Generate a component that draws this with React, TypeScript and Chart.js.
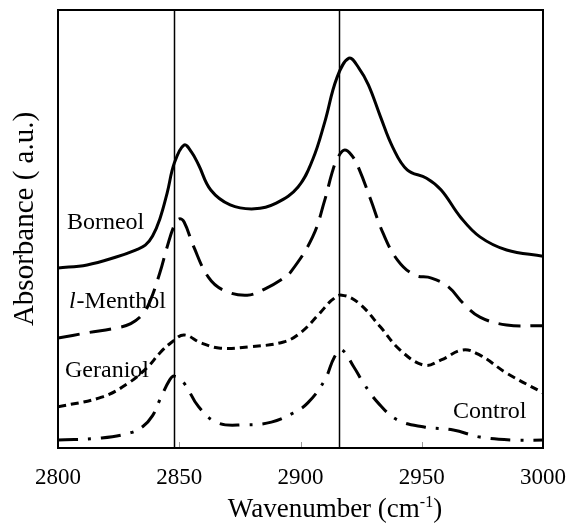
import React, { useEffect, useRef } from "react";
import { Chart, registerables } from "chart.js";

Chart.register(...registerables);

// ---- Data (wavenumber in cm-1, absorbance in arbitrary units, offset traces) ----
const borneolWn = [2800, 2812, 2824, 2832, 2836, 2839, 2842, 2845, 2848, 2852, 2855, 2858, 2863, 2871, 2881, 2890, 2899, 2905, 2910, 2915, 2920, 2924, 2928, 2933, 2938, 2944, 2952, 2958, 2966, 2974, 2985, 3000];
const borneolAbs = [41.1, 41.8, 43.6, 45.2, 46.3, 48.4, 52.3, 58.2, 65.1, 69.2, 67.6, 64.6, 58.9, 55.5, 54.6, 55.9, 59.6, 65.8, 74.4, 84.5, 89.0, 86.8, 82.9, 75.6, 68.7, 63.5, 61.6, 58.9, 52.7, 48.2, 45.2, 43.8];

const mentholWn = [2800, 2812, 2824, 2830, 2835, 2838, 2842, 2845, 2848, 2850, 2852, 2856, 2862, 2868, 2878, 2886, 2892, 2896, 2905, 2910, 2913, 2915, 2918, 2921, 2924, 2929, 2934, 2940, 2947, 2954, 2961, 2967, 2974, 2985, 3000];
const mentholAbs = [25.1, 26.3, 27.4, 28.4, 30.6, 33.6, 40.0, 45.9, 50.9, 52.3, 51.6, 45.9, 39.0, 36.1, 34.9, 36.5, 38.4, 40.2, 48.2, 56.6, 62.8, 65.8, 68.0, 66.9, 63.9, 56.6, 49.1, 42.9, 39.5, 38.8, 36.8, 33.1, 29.9, 28.1, 27.9];

const geraniolWn = [2800, 2818, 2829, 2837, 2842, 2847, 2852, 2859, 2867, 2879, 2893, 2900, 2908, 2913, 2917, 2924, 2933, 2941, 2951, 2958, 2967, 2974, 2985, 3000];
const geraniolAbs = [9.4, 11.6, 14.8, 18.5, 21.7, 24.2, 25.8, 24.0, 22.8, 23.1, 24.2, 26.3, 30.8, 33.8, 34.9, 33.1, 27.6, 22.4, 18.9, 20.1, 22.4, 21.2, 17.1, 12.6];

const controlWn = [2800, 2818, 2830, 2835, 2839, 2842, 2846, 2848, 2852, 2858, 2866, 2877, 2888, 2897, 2903, 2910, 2914, 2917, 2922, 2926, 2932, 2940, 2951, 2963, 2974, 2988, 3000];
const controlAbs = [1.8, 2.3, 3.5, 4.9, 7.4, 11.0, 15.5, 16.4, 14.8, 9.4, 5.7, 5.3, 5.9, 8.0, 10.3, 15.5, 20.8, 22.4, 18.5, 14.8, 10.3, 6.4, 4.8, 4.1, 2.5, 1.8, 1.8];

const xTicks = [2800, 2850, 2900, 2950, 3000];
const markerWn = [2848, 2916];

const seriesNames = ["Borneol", "l-Menthol", "Geraniol", "Control"];
// label anchor (wavenumber, absorbance) of each trace name
const labelWn = [2803.7, 2804.5, 2802.9, 2962.9];
const labelAbs = [50.0, 32.0, 16.2, 6.8];

const SERIF = "'Liberation Serif', 'Times New Roman', serif";

function pts(wn: number[], ab: number[]) {
  return wn.map((x, i) => ({ x, y: ab[i] }));
}

export default function App() {
  const ref = useRef<HTMLCanvasElement>(null);

  useEffect(() => {
    document.body.style.margin = "0";
    const canvas = ref.current;
    if (!canvas) return;

    const decor = {
      id: "decor",
      beforeDatasetsDraw(chart: any) {
        const { ctx, chartArea: a, scales } = chart;
        ctx.save();
        ctx.strokeStyle = "#000";
        ctx.lineWidth = 1.5;
        markerWn.forEach((w) => {
          const x = Math.round(scales.x.getPixelForValue(w)) + 0.5;
          ctx.beginPath();
          ctx.moveTo(x, a.top);
          ctx.lineTo(x, a.bottom);
          ctx.stroke();
        });
        ctx.restore();
      },
      afterDraw(chart: any) {
        const { ctx, chartArea: a, scales } = chart;
        ctx.save();
        // inner tick marks
        ctx.strokeStyle = "#9a9a9a";
        ctx.lineWidth = 1;
        xTicks.slice(1, -1).forEach((t) => {
          const x = Math.round(scales.x.getPixelForValue(t)) + 0.5;
          ctx.beginPath();
          ctx.moveTo(x, a.bottom);
          ctx.lineTo(x, a.bottom - 6);
          ctx.stroke();
        });
        // frame
        ctx.strokeStyle = "#000";
        ctx.lineWidth = 2;
        ctx.strokeRect(a.left, a.top, a.right - a.left, a.bottom - a.top);

        ctx.fillStyle = "#000";
        ctx.textBaseline = "alphabetic";
        // x title with superscript
        const big = `27px ${SERIF}`;
        const small = `16px ${SERIF}`;
        const p1 = "Wavenumber (cm";
        const p2 = "-1";
        const p3 = ")";
        ctx.font = big;
        const w1 = ctx.measureText(p1).width;
        const w3 = ctx.measureText(p3).width;
        ctx.font = small;
        const w2 = ctx.measureText(p2).width;
        const total = w1 + w2 + w3;
        const cx = 335;
        const by = 517;
        const x0 = cx - total / 2;
        ctx.font = big;
        ctx.textAlign = "left";
        ctx.fillText(p1, x0, by);
        ctx.font = small;
        ctx.fillText(p2, x0 + w1, by - 10);
        ctx.font = big;
        ctx.fillText(p3, x0 + w1 + w2, by);

        // y title
        ctx.save();
        ctx.translate(33, 219);
        ctx.rotate(-Math.PI / 2);
        ctx.font = `29px ${SERIF}`;
        ctx.textAlign = "center";
        ctx.fillText("Absorbance ( a.u.)", 0, 0);
        ctx.restore();

        // trace names
        ctx.textAlign = "left";
        seriesNames.forEach((name, i) => {
          const x = scales.x.getPixelForValue(labelWn[i]);
          const y = scales.y.getPixelForValue(labelAbs[i]);
          if (name.startsWith("l-")) {
            ctx.font = `italic 24px ${SERIF}`;
            ctx.fillText("l", x, y);
            const wl = ctx.measureText("l").width;
            ctx.font = `24px ${SERIF}`;
            ctx.fillText(name.slice(1), x + wl + 1, y);
          } else {
            ctx.font = `24px ${SERIF}`;
            ctx.fillText(name, x, y);
          }
        });
        ctx.restore();
      },
    };

    const common = {
      borderColor: "#000",
      borderWidth: 3,
      pointRadius: 0,
      fill: false,
      tension: 0.4,
      borderCapStyle: "butt" as const,
    };

    const chart = new Chart(canvas, {
      type: "line",
      data: {
        datasets: [
          { ...common, label: seriesNames[0], data: pts(borneolWn, borneolAbs) },
          { ...common, label: seriesNames[1], data: pts(mentholWn, mentholAbs), borderDash: [22, 10] },
          { ...common, label: seriesNames[2], data: pts(geraniolWn, geraniolAbs), borderDash: [8, 5] },
          { ...common, label: seriesNames[3], data: pts(controlWn, controlAbs), borderDash: [20, 10, 3, 10] },
        ],
      },
      options: {
        animation: false,
        responsive: false,
        devicePixelRatio: 1,
        layout: { padding: { top: 10, right: 25, left: 0, bottom: 0 } },
        plugins: { legend: { display: false }, tooltip: { enabled: false } },
        scales: {
          x: {
            type: "linear",
            min: 2800,
            max: 3000,
            afterBuildTicks: (s: any) => {
              s.ticks = xTicks.map((v) => ({ value: v }));
            },
            grid: { display: false, drawTicks: false },
            border: { display: false },
            ticks: {
              font: { family: SERIF, size: 23 },
              color: "#000",
              padding: 16,
              maxRotation: 0,
              autoSkip: false,
              callback: (v: any) => String(v),
            },
            afterFit: (s: any) => {
              s.height = 75;
              s.paddingLeft = 0;
              s.paddingRight = 0;
            },
          },
          y: {
            min: 0,
            max: 100,
            ticks: { display: false },
            grid: { display: false },
            border: { display: false },
            afterFit: (s: any) => {
              s.width = 58;
            },
          },
        },
      },
      plugins: [decor],
    });

    return () => chart.destroy();
  }, []);

  return <canvas ref={ref} width={568} height={523} style={{ display: "block" }} />;
}
